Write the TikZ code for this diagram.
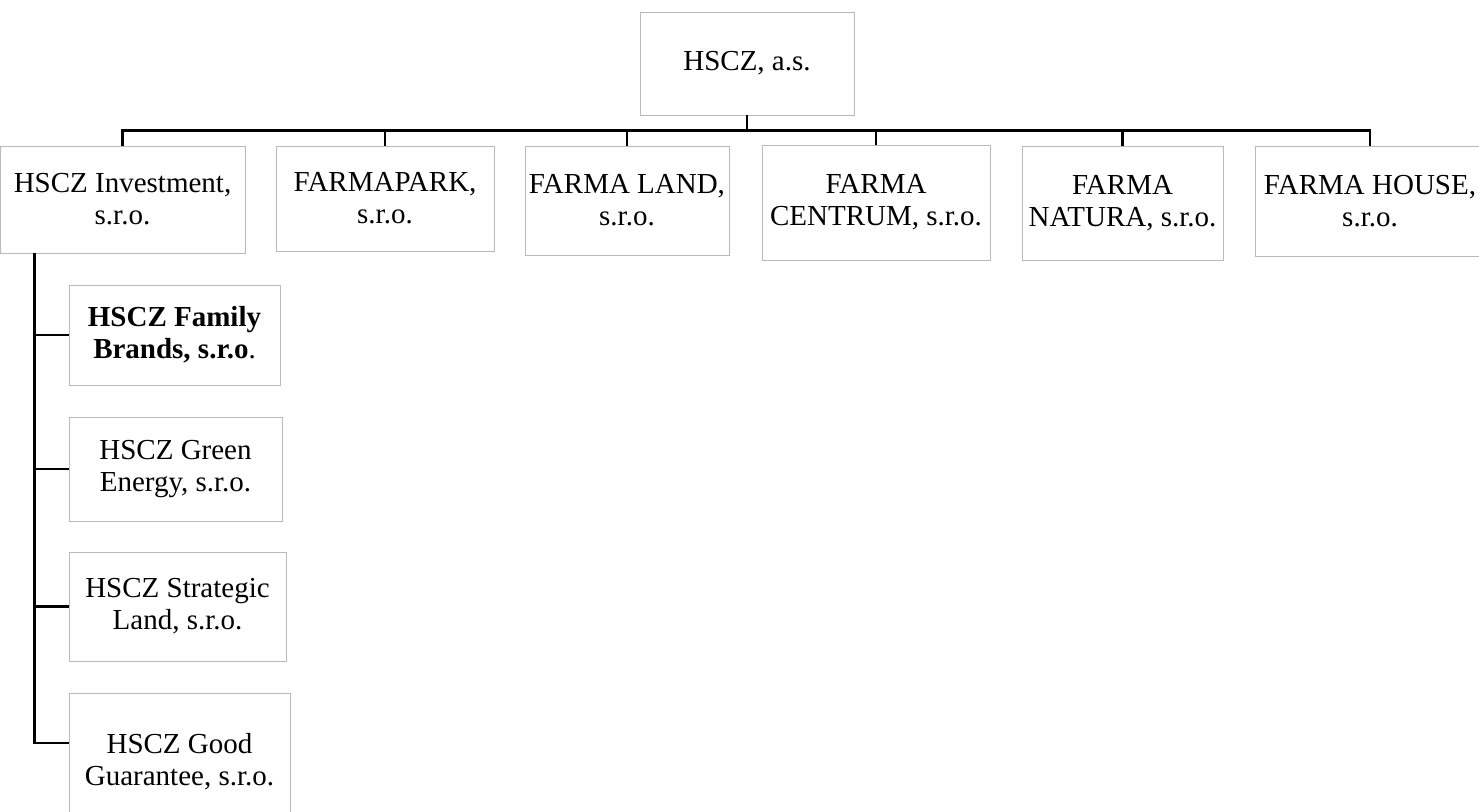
\documentclass[tikz,border=0pt]{standalone}
\usepackage{fontspec}
\setmainfont{Liberation Serif}
\usetikzlibrary{calc}

\begin{document}
\begin{tikzpicture}[
  x=1pt, y=-1pt,
  every node/.style={inner sep=2pt},
  unit/.style={draw=gray!55, line width=0.9pt, align=center, font=\fontsize{29}{32}\selectfont},
  link/.style={draw=black, line width=2.6pt}
]
\useasboundingbox (0,0) rectangle (1479,811);

% parent company
\node[unit, minimum width=214pt, minimum height=103pt] (hscz) at (747,63.5) {HSCZ, a.s.};

% subsidiaries, first level
\node[unit, minimum width=245pt, minimum height=107pt] (inv)     at (122.5,199.5) {HSCZ Investment,\\ s.r.o.};
\node[unit, minimum width=218pt, minimum height=105pt] (park)    at (385,198.5)   {FARMAPARK,\\ s.r.o.};
\node[unit, minimum width=204pt, minimum height=109pt] (land)    at (627,200.5)   {FARMA LAND,\\ s.r.o.};
\node[unit, minimum width=228pt, minimum height=115pt] (centrum) at (876,202.5)   {FARMA\\ CENTRUM, s.r.o.};
\node[unit, minimum width=201pt, minimum height=114pt] (natura)  at (1122.5,203)  {FARMA\\ NATURA, s.r.o.};
\node[unit, minimum width=230pt, minimum height=110pt] (house)   at (1370,201)    {FARMA HOUSE,\\ s.r.o.};

% under HSCZ Investment
\node[unit, minimum width=211pt, minimum height=100pt] (family)    at (174.5,335)   {\textbf{HSCZ Family}\\ \textbf{Brands, s.r.o}.};
\node[unit, minimum width=213pt, minimum height=104pt] (green)     at (175.5,469)   {HSCZ Green\\ Energy, s.r.o.};
\node[unit, minimum width=217pt, minimum height=109pt] (strategic) at (177.5,606.5) {HSCZ Strategic\\ Land, s.r.o.};
\node[unit, minimum width=221pt, minimum height=138pt] (good)      at (179.5,762)   {HSCZ Good\\ Guarantee, s.r.o.};

% bus from the parent
\foreach \c in {inv,park,land,centrum,natura,house}
  \draw[link] (hscz.south) -- ++(0,-15pt) -| (\c.north);

% spine on the left
\coordinate (spine) at ([xshift=35pt]inv.south west);
\draw[link] (spine) |- ([yshift=19pt]good.west);
\foreach \c in {family,green,strategic}
  \draw[link] (\c.west -| spine) -- (\c.west);

\end{tikzpicture}
\end{document}
